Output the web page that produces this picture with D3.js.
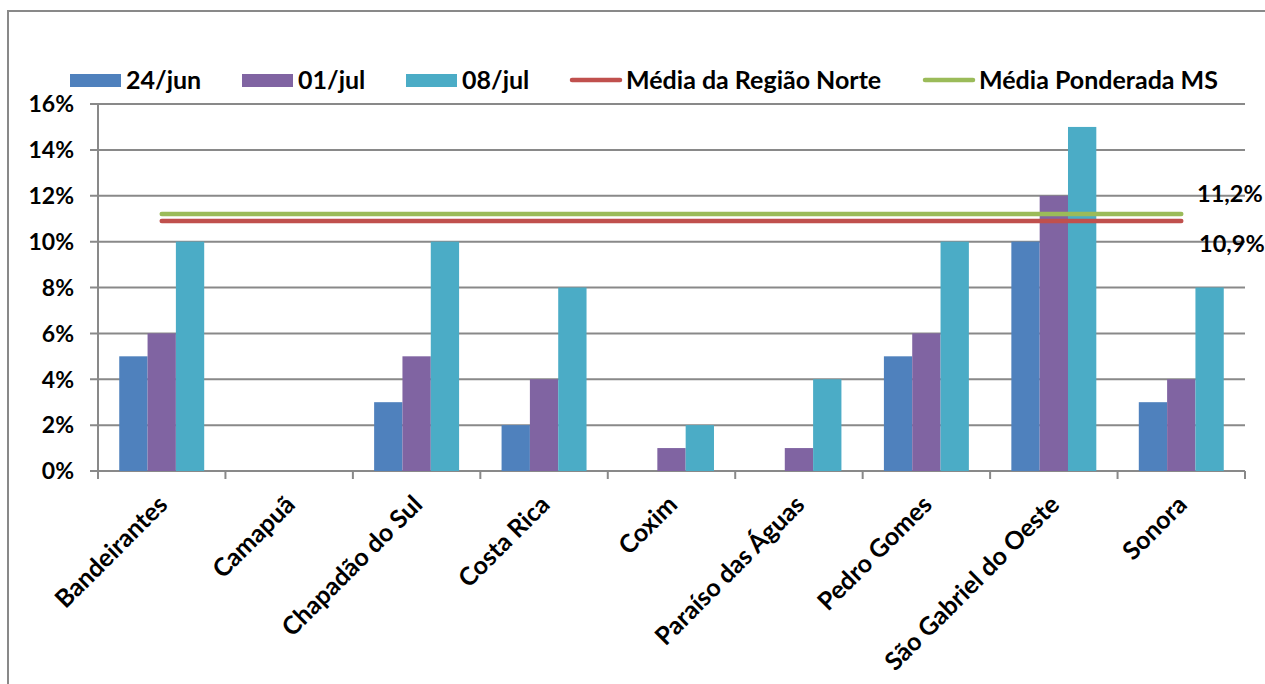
<!DOCTYPE html>
<html>
<head>
<meta charset="utf-8">
<script src="https://cdn.jsdelivr.net/npm/d3@7"></script>
<style>
  html, body { margin: 0; padding: 0; background: #fff; }
  svg { display: block; }
  text { font-family: Lato, "Open Sans", sans-serif; font-weight: bold; fill: #000; }
</style>
</head>
<body>
<svg id="chart" width="1265" height="684"></svg>
<script>
const categories = ["Bandeirantes", "Camapuã", "Chapadão do Sul", "Costa Rica", "Coxim",
  "Paraíso das Águas", "Pedro Gomes", "São Gabriel do Oeste", "Sonora"];
const seriesNames = ["24/jun", "01/jul", "08/jul"];
const jun24 = [0.05, 0, 0.03, 0.02, 0, 0, 0.05, 0.10, 0.03];
const jul01 = [0.06, 0, 0.05, 0.04, 0.01, 0.01, 0.06, 0.12, 0.04];
const jul08 = [0.10, 0, 0.10, 0.08, 0.02, 0.04, 0.10, 0.15, 0.08];
const refNames = ["Média da Região Norte", "Média Ponderada MS"];
const refValues = [0.109, 0.112];
const refLabels = ["10,9%", "11,2%"];
const yTicks = [0, 0.02, 0.04, 0.06, 0.08, 0.10, 0.12, 0.14, 0.16];

const barColors = ["#4F81BD", "#8064A2", "#4BACC6"];
const refColors = ["#C0504D", "#9BBB59"];
const gridColor = "#898989";

const svg = d3.select("#chart");
const seriesData = [jun24, jul01, jul08];

const plot = { left: 98, right: 1245, top: 104, bottom: 471 };

// outer frame
svg.append("rect").attr("x", 8).attr("y", 11).attr("width", 1400).attr("height", 800)
  .attr("fill", "none").attr("stroke", gridColor).attr("stroke-width", 2);

// cut-off title glyph at top
svg.append("text").attr("x", 655).attr("y", -4).style("font-size", "22px").style("font-weight", "normal").text("ç");

const x = d3.scaleBand().domain(categories).range([plot.left, plot.right]).padding(0);
const xs = d3.scaleBand().domain(seriesNames).range([0, x.bandwidth()]).paddingInner(0).paddingOuter(0.75);
const y = d3.scaleLinear().domain([0, 0.16]).range([plot.bottom, plot.top]);

// gridlines
svg.append("g").selectAll("line").data(yTicks).join("line")
  .attr("x1", plot.left - 8).attr("x2", plot.right)
  .attr("y1", d => y(d)).attr("y2", d => y(d))
  .attr("stroke", gridColor).attr("stroke-width", 2);

// y axis line
svg.append("line").attr("x1", plot.left).attr("x2", plot.left)
  .attr("y1", plot.top).attr("y2", plot.bottom + 8)
  .attr("stroke", gridColor).attr("stroke-width", 2);

// y tick labels
svg.append("g").selectAll("text").data(yTicks).join("text")
  .attr("x", 74).attr("y", d => y(d)).attr("dy", "0.36em")
  .attr("text-anchor", "end").style("font-size", "23px")
  .text(d => d3.format(".0%")(d));

// x ticks at band boundaries
const boundaries = categories.map(c => x(c)).concat([plot.right]);
svg.append("g").selectAll("line").data(boundaries).join("line")
  .attr("x1", d => d).attr("x2", d => d)
  .attr("y1", plot.bottom).attr("y2", plot.bottom + 8)
  .attr("stroke", gridColor).attr("stroke-width", 2);

// bars
seriesNames.forEach((s, si) => {
  svg.append("g").selectAll("rect").data(categories).join("rect")
    .attr("x", c => x(c) + xs(s))
    .attr("width", xs.bandwidth())
    .attr("y", (c, i) => y(seriesData[si][i]))
    .attr("height", (c, i) => plot.bottom - y(seriesData[si][i]))
    .attr("fill", barColors[si]);
});

// reference lines
const lx1 = x(categories[0]) + x.bandwidth() / 2;
const lx2 = x(categories[categories.length - 1]) + x.bandwidth() / 2;
refValues.forEach((v, i) => {
  svg.append("line").attr("x1", lx1).attr("x2", lx2)
    .attr("y1", y(v)).attr("y2", y(v))
    .attr("stroke", refColors[i]).attr("stroke-width", 4.5).attr("stroke-linecap", "round");
});
// reference labels
svg.append("text").attr("x", 1199).attr("y", 252).style("font-size", "23.5px").text(refLabels[0]);
svg.append("text").attr("x", 1197).attr("y", 202).style("font-size", "23.5px").text(refLabels[1]);

// category labels
svg.append("g").selectAll("text").data(categories).join("text")
  .attr("transform", c => `translate(${x(c) + x.bandwidth() / 2 + 1},${plot.bottom + 29}) rotate(-45)`)
  .attr("text-anchor", "end").attr("dy", "0.35em")
  .style("font-size", "25px")
  .text(c => c);

// legend
const legendItems = [
  { name: seriesNames[0], type: "rect", color: barColors[0], x: 70 },
  { name: seriesNames[1], type: "rect", color: barColors[1], x: 242 },
  { name: seriesNames[2], type: "rect", color: barColors[2], x: 406 },
  { name: refNames[0], type: "line", color: refColors[0], x: 570 },
  { name: refNames[1], type: "line", color: refColors[1], x: 923 }
];
const ly = 80;
const lg = svg.append("g");
legendItems.forEach(it => {
  if (it.type === "rect") {
    lg.append("rect").attr("x", it.x).attr("y", ly - 6).attr("width", 51).attr("height", 13).attr("fill", it.color);
  } else {
    lg.append("line").attr("x1", it.x + 2).attr("x2", it.x + 50).attr("y1", ly).attr("y2", ly)
      .attr("stroke", it.color).attr("stroke-width", 4.5).attr("stroke-linecap", "round");
  }
  lg.append("text").attr("x", it.x + 56).attr("y", ly).attr("dy", "0.36em")
    .style("font-size", "25px").text(it.name);
});
</script>
</body>
</html>
